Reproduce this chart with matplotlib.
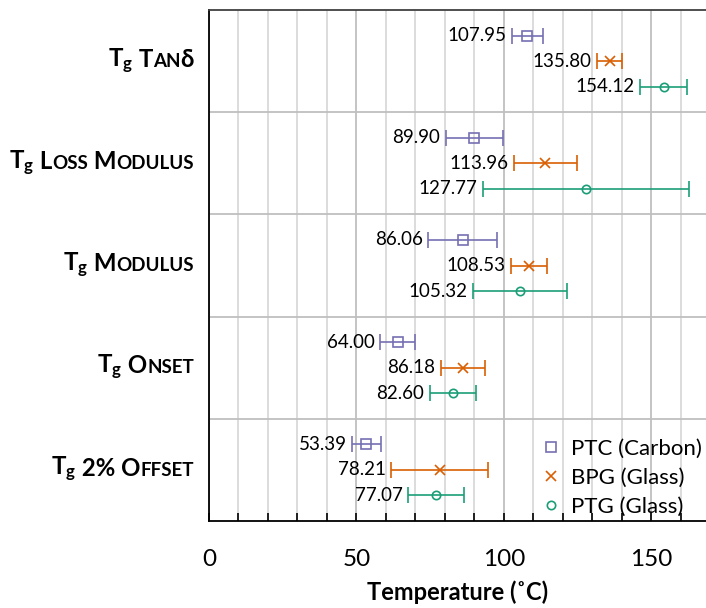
import numpy as np
import matplotlib
matplotlib.use("Agg")
import matplotlib.pyplot as plt
from matplotlib.lines import Line2D
from matplotlib.offsetbox import TextArea, HPacker, AnnotationBbox
from matplotlib.ticker import MultipleLocator

plt.rcParams['font.family'] = ['Lato', 'DejaVu Sans']
plt.rcParams['mathtext.fontset'] = 'custom'
plt.rcParams['mathtext.rm'] = 'Lato'
plt.rcParams['mathtext.bf'] = 'Lato:bold'

# groups top -> bottom
groups = ["Tanδ", "Loss Modulus", "Modulus", "Onset", "2% Offset"]
series = ["PTC (Carbon)", "BPG (Glass)", "PTG (Glass)"]

ptc = [107.95, 89.90, 86.06, 64.00, 53.39]
bpg = [135.80, 113.96, 108.53, 86.18, 78.21]
ptg = [154.12, 127.77, 105.32, 82.60, 77.07]

# error bar half widths
ptc_err = [5.3, 9.7, 11.7, 6.0, 4.9]
bpg_err = [4.3, 10.7, 6.2, 7.5, 16.4]
ptg_err = [8.0, 34.8, 15.9, 7.8, 9.5]

colors = ["#7570b3", "#d95f02", "#1b9e77"]
markers = ["s", "x", "o"]
msizes = [6.5, 7.5, 6]
offsets = [-0.25, 0.0, 0.25]

fig = plt.figure(figsize=(7.06, 6.08), dpi=100)
ax = fig.add_axes([209/706, 1-521/608, 1-209/706, (521-10)/608])

ypos = np.arange(len(groups)) + 0.5
for vals, errs, c, m, ms, off in zip([ptc, bpg, ptg], [ptc_err, bpg_err, ptg_err],
                                     colors, markers, msizes, offsets):
    y = ypos + off
    ax.errorbar(vals, y, xerr=errs, fmt=m, color=c, mfc='none', mec=c, ms=ms, mew=1.2,
                capsize=5.5, elinewidth=1.2, capthick=1.2, zorder=3)
    for v, e, yy in zip(vals, errs, y):
        ax.annotate(f"{v:.2f}", (v - e, yy), xytext=(-4, 0), textcoords='offset points',
                    ha='right', va='center', fontsize=13.5)

ax.set_xlim(0, 168.5)
ax.set_ylim(len(groups), 0)
ax.xaxis.set_major_locator(MultipleLocator(50))
ax.xaxis.set_minor_locator(MultipleLocator(10))
ax.tick_params(axis='x', which='both', direction='in', length=6, width=1.2,
               color='black', pad=20, labelsize=17.5)
ax.set_yticks(np.arange(1, len(groups)))
ax.set_yticklabels([])
ax.tick_params(axis='y', length=0)
ax.grid(axis='x', which='major', color='#bfbfbf', lw=1.3)
ax.grid(axis='x', which='minor', color='#d9d9d9', lw=1.3)
ax.grid(axis='y', which='major', color='#bfbfbf', lw=1.3)
ax.set_axisbelow(True)

ax.spines['right'].set_visible(False)
ax.spines['top'].set_color('#404040')
ax.spines['left'].set_color('black')
ax.spines['bottom'].set_color('black')
for s in ['top', 'left', 'bottom']:
    ax.spines[s].set_linewidth(1.3)


def label_box(name):
    parts = [TextArea(r"$\mathbf{T_g}$", textprops=dict(fontsize=17.3))]
    runs = []
    for ch in " " + name:
        small = ch.isascii() and ch.islower()
        if runs and runs[-1][1] == small:
            runs[-1][0] += ch
        else:
            runs.append([ch, small])
    for txt, small in runs:
        parts.append(TextArea(txt.upper() if small else txt,
                              textprops=dict(fontsize=13.5 if small else 17.3, fontweight='bold')))
    return HPacker(children=parts, align="baseline", pad=0, sep=0)


for g, yy in zip(groups, ypos):
    ab = AnnotationBbox(label_box(g), (-0.03, yy), xycoords=('axes fraction', 'data'),
                        box_alignment=(1, 0.5), frameon=False, pad=0, annotation_clip=False)
    ax.add_artist(ab)

handles = [Line2D([], [], ls='none', marker=m, color=c, mfc='none', ms=ms, mew=1.2)
           for m, c, ms in zip(markers, colors, msizes)]
ax.legend(handles, series, loc='lower right', bbox_to_anchor=(1.0, 0.0), frameon=False,
          fontsize=16, handlelength=0.8, handletextpad=0.5, labelspacing=0.4,
          borderaxespad=0.0, borderpad=0.2)

ax.set_xlabel("Temperature (˚C)", fontsize=17, fontweight='bold', labelpad=8)

fig.savefig("out.png", dpi=100)
